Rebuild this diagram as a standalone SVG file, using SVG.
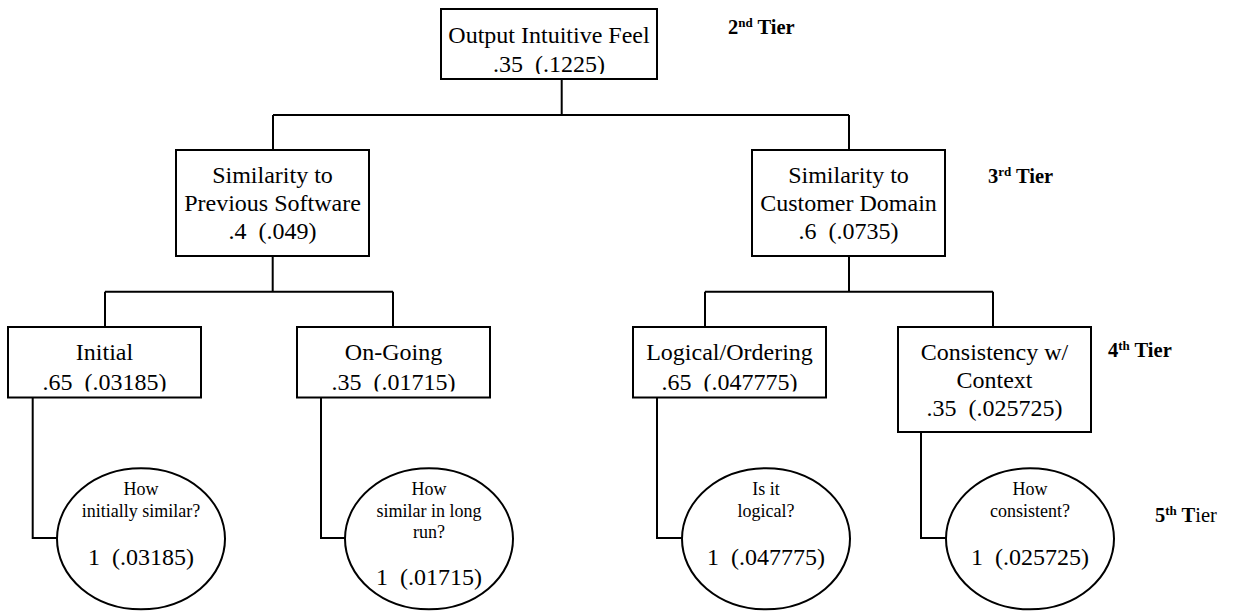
<svg xmlns="http://www.w3.org/2000/svg" width="1235" height="611" viewBox="0 0 1235 611">
  <style>
    .box { fill: #fff; stroke: #000; stroke-width: 2; }
    .oval { fill: #fff; stroke: #000; stroke-width: 2; }
    .wire { fill: none; stroke: #000; stroke-width: 2; }
    .t { font-family: "Liberation Serif", "Times New Roman", serif; font-size: 24px; fill: #000; text-anchor: middle; }
    .q { font-family: "Liberation Serif", "Times New Roman", serif; font-size: 18px; fill: #000; text-anchor: middle; }
    .tier { font-family: "Liberation Serif", "Times New Roman", serif; font-size: 20.5px; font-weight: bold; fill: #000; }
    .sup { font-size: 13px; }
    .plain { font-weight: normal; }
  </style>
  <defs>
    <!-- text boxes cut off overflowing text at their inner margin -->
    <clipPath id="clip-root"><rect x="441" y="9" width="216" height="65"/></clipPath>
    <clipPath id="clip-initial"><rect x="8" y="327" width="193" height="64.5"/></clipPath>
    <clipPath id="clip-ongoing"><rect x="297" y="327" width="193" height="64.5"/></clipPath>
    <clipPath id="clip-logical"><rect x="633" y="327" width="193" height="64.5"/></clipPath>
  </defs>

  <!-- connectors -->
  <g id="connectors" class="wire">
    <path d="M561.7,79 V115 M273,115 H849 M273,115 V150 M849,115 V150"/>
    <path d="M272.7,256 V291.7 M105,291.7 H393 M105,291.7 V327 M393,291.7 V327"/>
    <path d="M849,256 V291.7 M705,291.7 H993 M705,291.7 V327 M993,291.7 V327"/>
    <path d="M32.7,397.5 V538 H57"/>
    <path d="M321,397.5 V538 H345"/>
    <path d="M657,397.5 V538 H682"/>
    <path d="M921,432 V538 H946"/>
  </g>

  <!-- 2nd tier -->
  <g id="node-output">
    <rect class="box" x="441" y="9" width="216" height="70"/>
    <g clip-path="url(#clip-root)">
      <text class="t" x="549" y="43">Output Intuitive Feel</text>
      <text class="t" x="549" y="71.5" xml:space="preserve">.35  (.1225)</text>
    </g>
  </g>

  <!-- 3rd tier -->
  <g id="node-sim-previous">
    <rect class="box" x="176" y="150" width="193" height="106"/>
    <text class="t" x="272.5" y="183">Similarity to</text>
    <text class="t" x="272.5" y="211">Previous Software</text>
    <text class="t" x="272.5" y="239" xml:space="preserve">.4  (.049)</text>
  </g>
  <g id="node-sim-customer">
    <rect class="box" x="752" y="150" width="193" height="106"/>
    <text class="t" x="848.5" y="183">Similarity to</text>
    <text class="t" x="848.5" y="211">Customer Domain</text>
    <text class="t" x="848.5" y="239" xml:space="preserve">.6  (.0735)</text>
  </g>

  <!-- 4th tier -->
  <g id="node-initial">
    <rect class="box" x="8" y="327" width="193" height="70.5"/>
    <g clip-path="url(#clip-initial)">
      <text class="t" x="104.5" y="360">Initial</text>
      <text class="t" x="104.5" y="389.5" xml:space="preserve">.65  (.03185)</text>
    </g>
  </g>
  <g id="node-ongoing">
    <rect class="box" x="297" y="327" width="193" height="70.5"/>
    <g clip-path="url(#clip-ongoing)">
      <text class="t" x="393.5" y="360">On-Going</text>
      <text class="t" x="393.5" y="389.5" xml:space="preserve">.35  (.01715)</text>
    </g>
  </g>
  <g id="node-logical">
    <rect class="box" x="633" y="327" width="193" height="70.5"/>
    <g clip-path="url(#clip-logical)">
      <text class="t" x="729.5" y="360">Logical/Ordering</text>
      <text class="t" x="729.5" y="389.5" xml:space="preserve">.65  (.047775)</text>
    </g>
  </g>
  <g id="node-consistency">
    <rect class="box" x="898" y="327" width="193" height="105"/>
    <text class="t" x="994.5" y="360">Consistency w/</text>
    <text class="t" x="994.5" y="388">Context</text>
    <text class="t" x="994.5" y="416" xml:space="preserve">.35  (.025725)</text>
  </g>

  <!-- 5th tier -->
  <g id="node-q-initial">
    <ellipse class="oval" cx="141" cy="538.8" rx="84" ry="70.5"/>
    <text class="q" x="141" y="495">How</text>
    <text class="q" x="141" y="516.5">initially similar?</text>
    <text class="t" x="141" y="565" xml:space="preserve">1  (.03185)</text>
  </g>
  <g id="node-q-longrun">
    <ellipse class="oval" cx="429" cy="538.8" rx="84" ry="70.5"/>
    <text class="q" x="429" y="495">How</text>
    <text class="q" x="429" y="516.5">similar in long</text>
    <text class="q" x="429" y="538">run?</text>
    <text class="t" x="429" y="585" xml:space="preserve">1  (.01715)</text>
  </g>
  <g id="node-q-logical">
    <ellipse class="oval" cx="766" cy="538.8" rx="84" ry="70.5"/>
    <text class="q" x="766" y="495">Is it</text>
    <text class="q" x="766" y="516.5">logical?</text>
    <text class="t" x="766" y="565" xml:space="preserve">1  (.047775)</text>
  </g>
  <g id="node-q-consistent">
    <ellipse class="oval" cx="1030" cy="538.8" rx="84" ry="70.5"/>
    <text class="q" x="1030" y="495">How</text>
    <text class="q" x="1030" y="516.5">consistent?</text>
    <text class="t" x="1030" y="565" xml:space="preserve">1  (.025725)</text>
  </g>

  <!-- tier labels -->
  <g id="tier-labels">
    <text class="tier" x="728" y="34">2<tspan class="sup" dy="-7.5">nd</tspan><tspan dy="7.5"> Tier</tspan></text>
    <text class="tier" x="988" y="183">3<tspan class="sup" dy="-7.5">rd</tspan><tspan dy="7.5"> Tier</tspan></text>
    <text class="tier" x="1108" y="357">4<tspan class="sup" dy="-7.5">th</tspan><tspan dy="7.5"> Tier</tspan></text>
    <text class="tier" x="1155" y="522">5<tspan class="sup" dy="-7.5">th</tspan><tspan dy="7.5"> T</tspan><tspan class="plain">ier</tspan></text>
  </g>
</svg>
